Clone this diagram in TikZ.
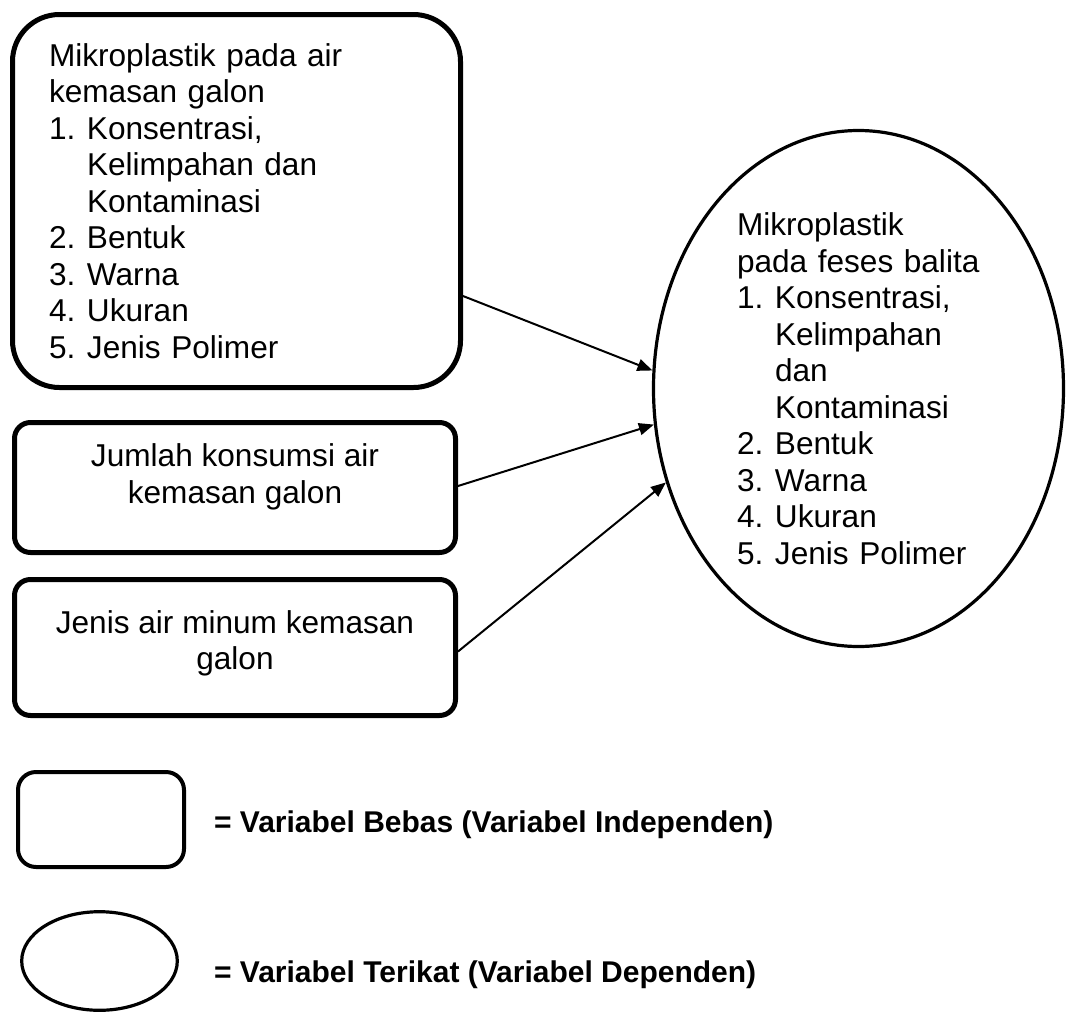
\documentclass[tikz,border=0pt]{standalone}
\usepackage{fontspec}
\setmainfont{Liberation Sans}
\usetikzlibrary{arrows.meta, positioning, shapes.geometric}
\newcommand{\nomor}[1]{\makebox[19pt][l]{#1}}
\newcommand{\lanjut}{\hspace*{19pt}}
\newcommand{\padbot}[1]{\rule[-#1]{0pt}{#1}}

\begin{document}
\begin{tikzpicture}[
    x=0.5pt, y=-0.5pt,
    >={Triangle[length=7.5pt, width=6pt]},
    every node/.style={font=\fontsize{15.8pt}{18.25pt}\selectfont},
    bebas/.style={draw, line width=2.5pt, rounded corners=8pt, inner sep=0pt, align=center},
    terikat/.style={draw, ellipse, line width=1.6pt, inner sep=0pt},
    ket/.style={anchor=base west, font=\bfseries\fontsize{15pt}{18pt}\selectfont},
    panah/.style={->, line width=1pt}
]
    \useasboundingbox (0,0) rectangle (1067,1018);

    % variabel bebas
    \node[bebas, rounded corners=23.5pt, minimum width=224pt, minimum height=186.5pt,
          text width=187.5pt, align=left] (airgalon) at (236.5,201)
        {Mikroplastik pada air\\
         kemasan galon\\
         \nomor{1.}Konsentrasi,\\
         \lanjut Kelimpahan dan\\
         \lanjut Kontaminasi\\
         \nomor{2.}Bentuk\\
         \nomor{3.}Warna\\
         \nomor{4.}Ukuran\\
         \nomor{5.}Jenis Polimer};
    \node[bebas, minimum width=220.5pt, minimum height=65pt] (jumlah) at (235,487.5)
        {Jumlah konsumsi air\\ kemasan galon\padbot{13.75pt}};
    \node[bebas, minimum width=220.5pt, minimum height=68pt] (jenis) at (235,647.5)
        {Jenis air minum kemasan\\ galon\padbot{7.5pt}};

    % variabel terikat
    \node[terikat, minimum width=205pt, minimum height=258pt, text width=121.5pt, align=left]
        (feses) at (858.5,388.5)
        {Mikroplastik\\
         pada feses balita\\
         \nomor{1.}Konsentrasi,\\
         \lanjut Kelimpahan\\
         \lanjut dan\\
         \lanjut Kontaminasi\\
         \nomor{2.}Bentuk\\
         \nomor{3.}Warna\\
         \nomor{4.}Ukuran\\
         \nomor{5.}Jenis Polimer};

    \draw[panah] ([yshift=-47.5pt]airgalon.east) -- (feses.175.4);
    \draw[panah] ([yshift=0.75pt]jumlah.east) -- (feses.-170.8);
    \draw[panah] ([yshift=-2pt]jenis.east) -- (feses.-154.1);

    % keterangan
    \node[draw, line width=2pt, rounded corners=9pt, minimum width=83pt, minimum height=47.5pt]
        (legbebas) at (101,819.5) {};
    \node[terikat, minimum width=77.8pt, minimum height=49.3pt] (legterikat) at (99.5,961) {};
    \node[ket] (ketbebas) at (207,832) {= Variabel Bebas (Variabel Independen)};
    \node[ket] (ketterikat) at (207,982) {= Variabel Terikat (Variabel Dependen)};
\end{tikzpicture}
\end{document}
